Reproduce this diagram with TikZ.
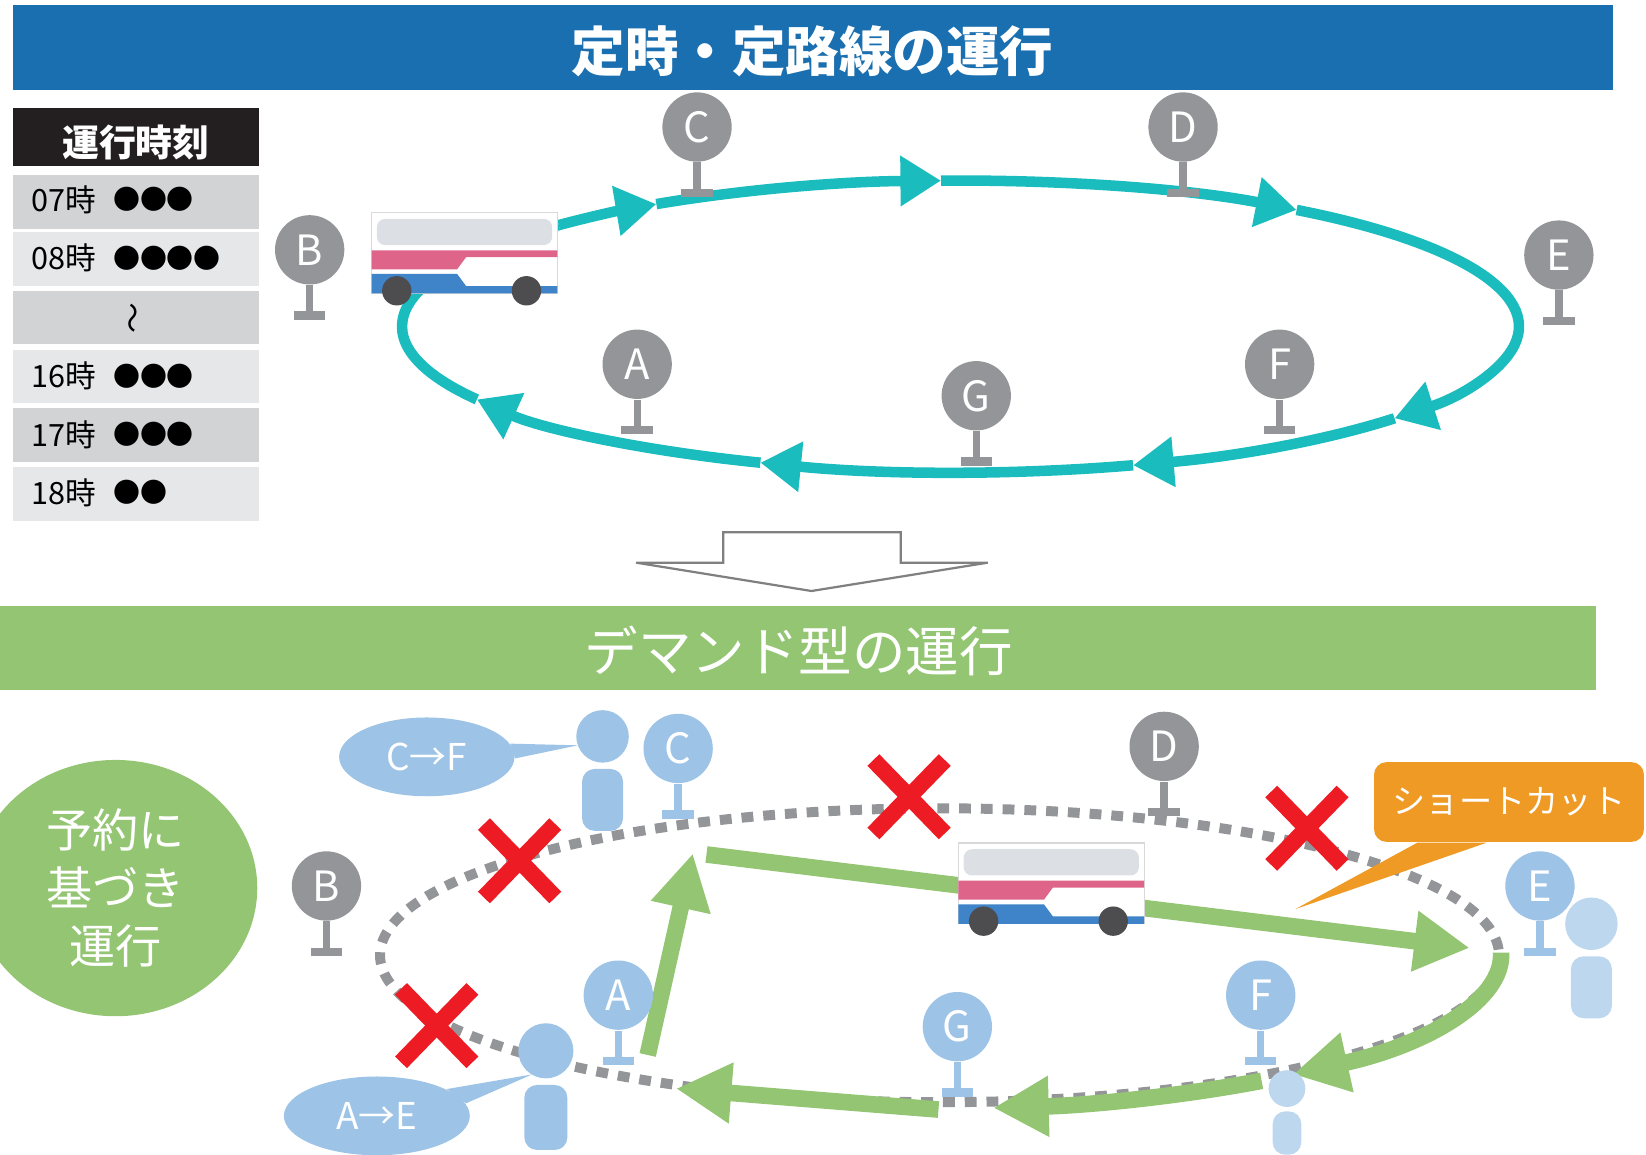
\documentclass[tikz,border=0pt]{standalone}
\usepackage{fontspec}
\setmainfont{Noto Sans CJK JP}
\usepackage{tikz}
\usetikzlibrary{arrows.meta,positioning,shapes.geometric}

\definecolor{titleblue}{HTML}{1A6FB0}
\definecolor{routeteal}{HTML}{1ABCBE}
\definecolor{stopgray}{HTML}{939598}
\definecolor{riderblue}{HTML}{9DC3E6}
\definecolor{paleblue}{HTML}{BDD7EE}
\definecolor{demandgreen}{HTML}{93C572}
\definecolor{nogored}{HTML}{ED1C24}
\definecolor{cutorange}{HTML}{EF9A24}
\definecolor{tablehead}{HTML}{231F20}
\definecolor{rowdark}{HTML}{D1D3D4}
\definecolor{rowlight}{HTML}{E6E7E8}
\definecolor{buspink}{HTML}{DE6489}
\definecolor{busblue}{HTML}{3F84C8}
\definecolor{buswindow}{HTML}{DCE0E4}
\definecolor{wheelgray}{HTML}{4D4D4F}

\newcommand\titlefont{\fontsize{14.5}{16}\selectfont}
\newcommand\headfont{\fontsize{10}{12}\selectfont}
\newcommand\rowfont{\fontsize{8.3}{9}\selectfont}
\newcommand\markfont{\fontsize{7.3}{9}\selectfont}
\newcommand\stopfont{\fontsize{11.3}{13}\selectfont}
\newcommand\bubblefont{\fontsize{10}{12}\selectfont}
\newcommand\rsvfont{\fontsize{12.5}{15.6}\selectfont}
\newcommand\cutfont{\fontsize{9}{11}\selectfont}

\tikzset{
  busstop/.style={circle, fill=#1, text=white, minimum size=6.6mm, inner sep=0pt, font=\stopfont},
  loopline/.style={draw=routeteal, line width=2.85pt},
  looparrow/.style={loopline, -{Triangle[length=11pt,width=13pt]}},
  oldroute/.style={draw=stopgray, line width=2.7pt, dash pattern=on 3.2pt off 2.7pt},
  newroute/.style={draw=demandgreen, line width=4.5pt, -{Triangle[length=15pt,width=15.5pt]}},
  nogo/.style={draw=nogored, line width=4.5pt},
  bubble/.style={ellipse, fill=riderblue, text=white, inner sep=0pt, minimum height=7.5mm, font=\bubblefont},
  rowtext/.style={inner sep=0pt, font=\rowfont},
  shortcut/.style={fill=cutorange, text=white, rounded corners=1.2mm, minimum width=2.57cm,
                   minimum height=7.6mm, font=\cutfont},
  pics/bus/.style={code={
    \filldraw[fill=white, draw=black!15, line width=0.3pt] (0,0) rectangle (177,77);
    \fill[buswindow, rounded corners=0.8mm] (5,6) rectangle (172,31);
    \fill[buspink] (0,36) -- (177,36) -- (177,42.5) -- (90,42.5) -- (81.5,54) -- (0,54) -- cycle;
    \fill[busblue] (0,58.5) -- (81.5,58.5) -- (90,70) -- (177,70) -- (177,77) -- (0,77) -- cycle;
    \fill[wheelgray] (24,74.5) circle[radius=14];
    \fill[wheelgray] (147.5,74.5) circle[radius=14];
  }},
  pics/person/.style={code={
    \fill[#1] (0,0) circle[radius=25];
    \fill[#1, rounded corners=1.2mm] (-19.5,31) rectangle (19.5,90);
    \coordinate (-head) at (0,0);
  }},
}

\begin{document}
\begin{tikzpicture}[x=0.01cm, y=-0.01cm]
  \useasboundingbox (0,0) rectangle (1568,1100);

  % fixed-route banner
  \fill[titleblue] (12,5) rectangle (1537,86);
  \node[text=white, font=\titlefont\bfseries] (title) at (774,49) {定時・定路線の運行};

  % timetable
  \fill[tablehead] (12,103) rectangle (247,158);
  \node[text=white, font=\headfont\bfseries] (ttl) at (129.5,136) {運行時刻};
  \foreach \top/\shade in {167/rowdark, 221/rowlight, 277/rowdark, 333/rowlight, 389/rowdark, 445/rowlight}
    \fill[\shade] (12,\top) rectangle (247,\top+51);
  \foreach \i/\y/\h/\m in {1/190/07時/●●●, 2/246/08時/●●●●, 4/358/16時/●●●, 5/414/17時/●●●, 6/469/18時/●●} {
    \node[rowtext, anchor=west] (hr\i) at (29,\y) {\h};
    \node[rowtext, font=\markfont, right=1.5mm of hr\i] (dt\i) {\m};
  }
  \node[rowtext, rotate=90] (gap) at (130,303) {〜};

  % fixed loop, clockwise
  \foreach \a/\b in {-136/-123, -123/-92, -92/-53, -53/39, 39/72, 72/111, 111/150}
    \draw[looparrow] ({915+532*cos(\a)},{311+139*sin(\a)})
      arc[start angle=\a, end angle=\b, x radius=532, y radius=139];
  \draw[loopline] ({915+532*cos(150)},{311+139*sin(150)})
    arc[start angle=150, end angle=224, x radius=532, y radius=139];

  \pic at (354,202.5) {bus};

  \node[busstop=stopgray] (tA) at (607,347) {A};
  \node[busstop=stopgray] (tB) at (295,238) {B};
  \node[busstop=stopgray] (tC) at (664,121) {C};
  \node[busstop=stopgray] (tD) at (1127,121) {D};
  \node[busstop=stopgray] (tE) at (1485,243) {E};
  \node[busstop=stopgray] (tF) at (1219,347) {F};
  \node[busstop=stopgray] (tG) at (930,377) {G};

  % hollow arrow between the two parts
  \draw[draw=black!50, line width=0.6pt, fill=white]
    (606,536) -- (689,536) -- (689,507) -- (858,507) -- (858,536) -- (941,536) -- (773,563) -- cycle;

  % demand banner
  \fill[demandgreen] (0,577) rectangle (1520,657);
  \node[text=white, font=\titlefont] (title2) at (761,620) {デマンド型の運行};

  \node[ellipse, fill=demandgreen, text=white, inner sep=0pt, minimum width=2.7cm,
        minimum height=2.44cm, align=center, font=\rsvfont] (rsv) at (110,846) {予約に\\基づき\\運行};

  % old loop, now skipped
  \draw[oldroute] (895,910) ellipse[x radius=533, y radius=140];

  % shortcut route
  \coordinate (gA) at (617,1005);
  \coordinate (gC) at (660,813);
  \coordinate (gC2) at (673,814);
  \coordinate (gE) at (1400,903);
  \coordinate (gG) at (894,1057);
  \coordinate (gA2) at (644,1037);
  \draw[newroute] (gA) -- (gC);
  \draw[newroute] (gC2) -- (gE);
  \draw[newroute] ({895+535*cos(-1)},{910+146*sin(-1)})
    arc[start angle=-1, end angle=51, x radius=535, y radius=146];
  \draw[newroute] ({895+535*cos(55)},{910+146*sin(55)})
    arc[start angle=55, end angle=84.5, x radius=535, y radius=146];
  \draw[newroute] (gG) -- (gA2);

  \pic at (913,803) {bus};

  \node[busstop=riderblue] (bA) at (589,948) {A};
  \node[busstop=stopgray]  (bB) at (311,844) {B};
  \node[busstop=riderblue] (bC) at (646,713) {C};
  \node[busstop=stopgray]  (bD) at (1109,711) {D};
  \node[busstop=riderblue] (bE) at (1467,844) {E};
  \node[busstop=riderblue] (bF) at (1201,948) {F};
  \node[busstop=riderblue] (bG) at (912,978) {G};

  % posts under every stop sign
  \foreach \s/\c in {tA/stopgray, tB/stopgray, tC/stopgray, tD/stopgray, tE/stopgray, tF/stopgray,
                     tG/stopgray, bA/riderblue, bB/stopgray, bC/riderblue, bD/stopgray,
                     bE/riderblue, bF/riderblue, bG/riderblue} {
    \fill[\c] ([xshift=-0.35mm]\s.south) rectangle ++(7,26);
    \fill[\c] ([xshift=-1.5mm,yshift=-2.5mm]\s.south) rectangle ++(30,8);
  }

  % riders
  \pic (pC) at (574,701.5) {person=riderblue};
  \pic[scale=1.05] (pA) at (520,1001) {person=riderblue};
  \pic (pE) at (1516,880) {person=paleblue};
  \pic[scale=0.7] (pF) at (1226,1037) {person=paleblue};

  \node[bubble, minimum width=1.67cm] (bubCF) at (406.6,721) {C→F};
  \fill[riderblue] (bubCF.9) -- ([shift={(-23.5,8.5)}]pC-head) -- (bubCF.-1) -- cycle;
  \node[bubble, minimum width=1.77cm] (bubAE) at (359,1063) {A→E};
  \fill[riderblue] (bubAE.21) -- ([shift={(-13,22.5)}]pA-head) -- (bubAE.8) -- cycle;

  % skipped sections
  \foreach \x/\y in {495/820, 416/977, 866/759, 1245/789} {
    \draw[nogo] (\x-34,\y-35) -- (\x+34,\y+35);
    \draw[nogo] (\x+34,\y-35) -- (\x-34,\y+35);
  }

  \node[shortcut] (cut) at (1437.5,764) {ショートカット};
  \coordinate (cutTip) at (1234,866);
  \fill[cutorange] ([xshift=4.2mm]cut.south west) -- (cutTip) -- ([xshift=10.8mm]cut.south west) -- cycle;
\end{tikzpicture}
\end{document}
